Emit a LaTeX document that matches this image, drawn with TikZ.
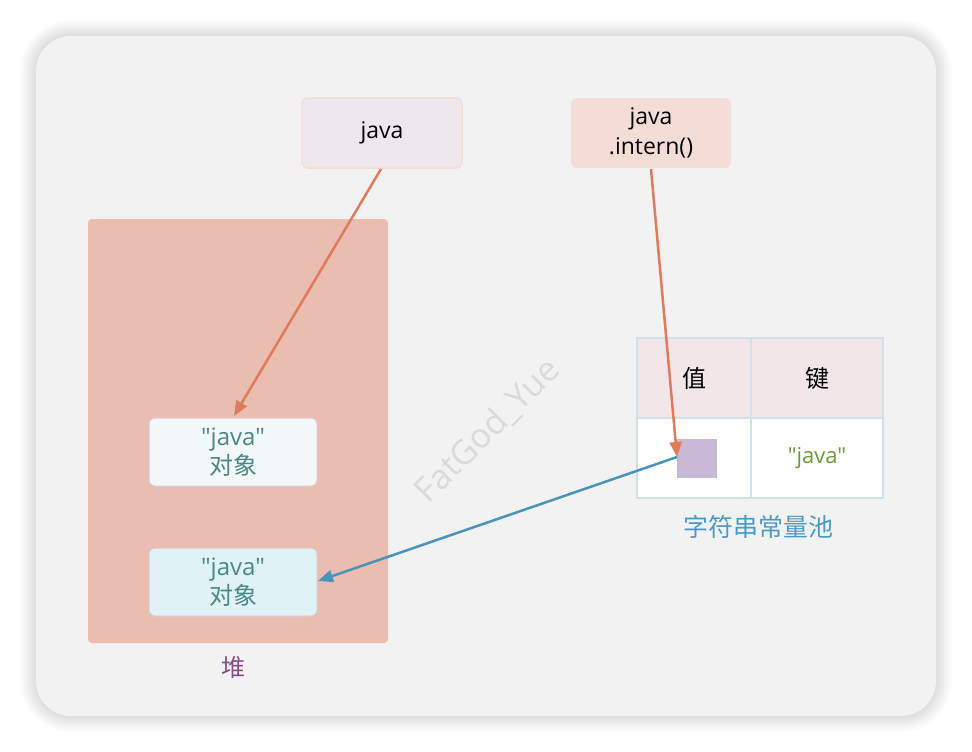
\documentclass[tikz,border=0pt]{standalone}
\usepackage{fontspec}
\setmainfont{Open Sans}
\newfontfamily\latinf{Open Sans}
\newfontfamily\cjk{Noto Sans CJK SC}
\usetikzlibrary{arrows.meta}
\definecolor{bgc}{HTML}{F2F2F2}
\definecolor{javafill}{HTML}{EEE8EE}
\definecolor{javadraw}{HTML}{F6DCD2}
\definecolor{internfill}{HTML}{F5DDD7}
\definecolor{heapfill}{HTML}{EBBCB0}
\definecolor{heaptext}{HTML}{8A4A88}
\definecolor{objAfill}{HTML}{F3F9F9}
\definecolor{objBfill}{HTML}{DFF2F4}
\definecolor{objdraw}{HTML}{DCC8DC}
\definecolor{objtext}{HTML}{4A8787}
\definecolor{tabdraw}{HTML}{CFE2EA}
\definecolor{tabhead}{HTML}{F2E6E9}
\definecolor{cellsq}{HTML}{C9B8D6}
\definecolor{keytext}{HTML}{6A9A3A}
\definecolor{pooltext}{HTML}{4A9AC8}
\definecolor{orangearrow}{HTML}{E07B5A}
\definecolor{bluearrow}{HTML}{4A93BA}
\definecolor{wmark}{HTML}{DADADA}
\tikzset{
  refbox/.style={rounded corners=6pt, minimum width=160pt, minimum height=70pt, inner sep=0pt, align=center, font=\fontsize{23}{30}\selectfont, text=black},
  objbox/.style={rounded corners=6pt, draw=objdraw, line width=1pt, minimum width=168pt, minimum height=68pt, inner sep=0pt, align=center, font=\fontsize{24}{29}\selectfont, text=objtext},
  cell/.style={draw=tabdraw, line width=1.5pt, minimum height=80pt, inner sep=0pt, font=\fontsize{22}{25}\selectfont},
  ptr/.style={line width=2.5pt, -{Triangle[length=15pt,width=12pt]}}
}
\begin{document}
\begin{tikzpicture}[x=1pt,y=-1pt]
\useasboundingbox (0,0) rectangle (972,752);
\fill[white] (0,0) rectangle (972,752);
\foreach \i in {1,...,16}{
  \pgfmathsetmacro{\r}{35+\i}
  \fill[black, opacity=0.009, rounded corners=\r pt] (36-\i,36-\i) rectangle (936+\i,716+\i);
}
\fill[bgc, rounded corners=35pt] (36,36) rectangle (936,716);

% watermark
\node[text=wmark, rotate=45, font=\fontsize{34}{34}\selectfont] (wm) at (488,431) {FatGod\_Yue};

% heap
\node[fill=heapfill, rounded corners=4pt, minimum width=300pt, minimum height=424pt, inner sep=0pt] (heap) at (238,431) {};
\node[text=heaptext, font=\fontsize{24}{26}\selectfont\cjk] (heaplbl) at (233,667) {堆};
\node[objbox, fill=objAfill] (obj1) at (233,452) {{\latinf "java"}\\{\cjk 对象}};
\node[objbox, fill=objBfill] (obj2) at (233,582) {{\latinf "java"}\\{\cjk 对象}};

% top refs
\node[refbox, fill=javafill, draw=javadraw, line width=1.5pt] (jref) at (382,133) {java};
\node[refbox, fill=internfill] (iref) at (651,133) {java\\.intern()};

% table
\node[cell, fill=tabhead, minimum width=114pt, font=\fontsize{24}{25}\selectfont\cjk] (h1) at (694,378) {值};
\node[cell, fill=tabhead, minimum width=132pt, font=\fontsize{24}{25}\selectfont\cjk] (h2) at (817,378) {键};
\node[cell, fill=white, minimum width=114pt] (c1) at (694,458) {};
\node[cell, fill=white, minimum width=132pt, text=keytext] (c2) at (817,458) {{\latinf "java"}};
\node[fill=cellsq, minimum width=40pt, minimum height=39pt, inner sep=0pt] (sq) at (697,458.5) {};
\node[text=pooltext, font=\fontsize{25}{26}\selectfont\cjk] (pool) at (758,527) {字符串常量池};

% arrows
\coordinate (jstart) at (381,169);
\coordinate (obj1top) at (234,416);
\draw[ptr, orangearrow] (jstart) -- (obj1top);
\coordinate (istart) at (651,169);
\coordinate (sqleft) at (677,457);
\draw[ptr, orangearrow] (istart) -- (sqleft);
\coordinate (obj2right) at (318,581);
\draw[ptr, bluearrow] (sqleft) -- (obj2right);
\end{tikzpicture}
\end{document}
